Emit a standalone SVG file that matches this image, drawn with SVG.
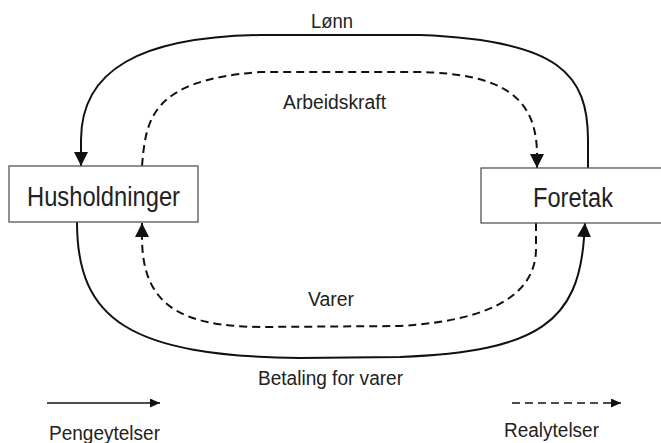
<svg xmlns="http://www.w3.org/2000/svg" width="661" height="443" viewBox="0 0 661 443">
<style>
.box{fill:#fff;stroke:#555;stroke-width:1.3}
.lbl{font-family:"Liberation Sans",Arial,sans-serif;fill:#222}
.big{font-size:27px}
.sm{font-size:19.5px}
.sol{fill:none;stroke:#111;stroke-width:2}
.dash{fill:none;stroke:#111;stroke-width:2;stroke-dasharray:8 5}
</style>
<defs>
<marker id="ah" markerUnits="userSpaceOnUse" markerWidth="16" markerHeight="16" refX="14" refY="7" orient="auto" viewBox="0 0 16 16">
<path d="M0,0 L14,7 L0,14 z" fill="#111"/>
</marker>
<marker id="ahs" markerUnits="userSpaceOnUse" markerWidth="12" markerHeight="12" refX="10" refY="4.5" orient="auto" viewBox="0 0 12 12">
<path d="M0,0 L10,4.5 L0,9 z" fill="#111"/>
</marker>
</defs>
<g id="connectors">
<path class="sol" d="M588,168 L588,140 C588,75 560,40 420,35 L260,35 C140,37 81,70 81,140 L81,166" marker-end="url(#ah)"/>
<path class="dash" d="M142,166 C146,120 150,80 260,72 L420,72 C500,74 537,95 537,155 L537,168" marker-end="url(#ah)"/>
<path class="dash" d="M536,223 L536,250 C535,290 500,320 400,326 L260,327 C180,326 142,305 142,237 L142,223" marker-end="url(#ah)"/>
<path class="sol" d="M77,222 C77,320 130,356 300,358 L400,357 C540,352 578,320 584,238 L585,223" marker-end="url(#ah)"/>
</g>
<g id="husholdninger">
<rect class="box" x="9" y="166" width="189" height="56"/>
<text class="lbl big" x="103.5" y="205.5" text-anchor="middle" textLength="153" lengthAdjust="spacingAndGlyphs">Husholdninger</text>
</g>
<g id="foretak">
<rect class="box" x="481" y="168" width="190" height="55"/>
<text class="lbl big" x="573" y="207" text-anchor="middle" textLength="80" lengthAdjust="spacingAndGlyphs">Foretak</text>
</g>
<g id="labels">
<text class="lbl" style="font-size:21px" x="332" y="27.5" text-anchor="middle" textLength="42" lengthAdjust="spacingAndGlyphs">Lønn</text>
<text class="lbl sm" x="334.5" y="109" text-anchor="middle" textLength="103" lengthAdjust="spacingAndGlyphs">Arbeidskraft</text>
<text class="lbl sm" x="331" y="306" text-anchor="middle" textLength="46" lengthAdjust="spacingAndGlyphs">Varer</text>
<text class="lbl sm" x="330.5" y="385" text-anchor="middle" textLength="145" lengthAdjust="spacingAndGlyphs">Betaling for varer</text>
</g>
<g id="legend">
<line class="sol" x1="47" y1="403" x2="160" y2="403" style="stroke-width:1.6" marker-end="url(#ahs)"/>
<text class="lbl sm" x="104.5" y="439.5" text-anchor="middle" textLength="111" lengthAdjust="spacingAndGlyphs">Pengeytelser</text>
<line class="dash" x1="512" y1="403" x2="621" y2="403" style="stroke-width:1.6" marker-end="url(#ahs)"/>
<text class="lbl sm" x="551.5" y="437" text-anchor="middle" textLength="95" lengthAdjust="spacingAndGlyphs">Realytelser</text>
</g>
</svg>
